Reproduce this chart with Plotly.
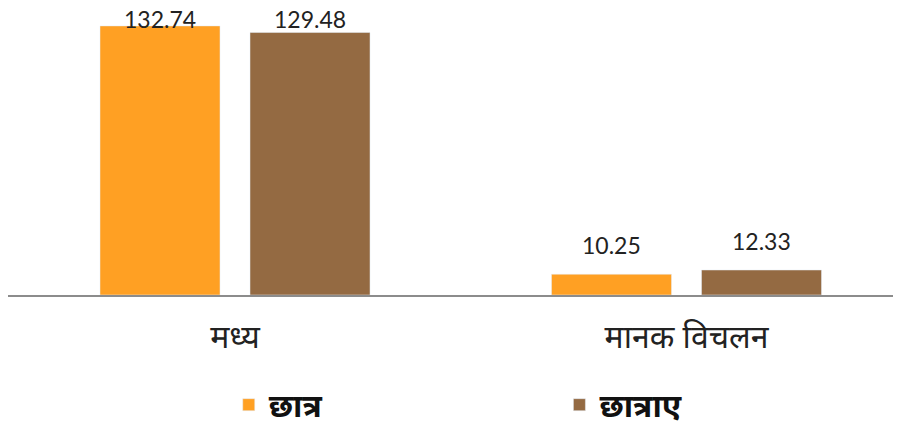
import plotly.graph_objects as go

categories = ["मध्य", "मानक विचलन"]
series_names = ["छात्र", "छात्राए"]
boys = [132.74, 10.25]
girls = [129.48, 12.33]
colors = ["#FFA023", "#946A42"]
legends = ["legend", "legend2"]

Y_MAX = 140.1
LABEL_GAP = 14.3      # data units above bar for the value label
LABEL_CAP = 136.4     # labels are clamped below the plot top

fig = go.Figure()
for name, vals, col, lg in zip(series_names, [boys, girls], colors, legends):
    fig.add_trace(go.Bar(
        x=categories, y=vals, name=name, marker_color=col, legend=lg,
    ))

for i, vals in enumerate([boys, girls]):
    for cat, v in zip(categories, vals):
        fig.add_annotation(
            x=cat, y=min(v + LABEL_GAP, LABEL_CAP), xref="x", yref="y",
            text=f"{v:.2f}", showarrow=False, yanchor="middle",
            xshift=(-75 if i == 0 else 75),
            font=dict(family="Lato, Carlito, sans-serif", size=23, color="#222222"),
        )

legfont = dict(family="Noto Sans, sans-serif", size=32, color="#111111", weight="bold")
fig.update_layout(
    width=901, height=425,
    margin=dict(l=0, r=0, t=3, b=138, autoexpand=False),
    paper_bgcolor="white", plot_bgcolor="white",
    barmode="group", bargap=0.3355, bargroupgap=0.2,
    showlegend=True,
    legend=dict(x=0.245, xanchor="left", y=-0.29, yanchor="top", tracegroupgap=0,
                font=legfont, itemclick=False, bgcolor="rgba(0,0,0,0)"),
    legend2=dict(x=0.612, xanchor="left", y=-0.29, yanchor="top", tracegroupgap=0,
                 font=legfont, itemclick=False, bgcolor="rgba(0,0,0,0)"),
    xaxis=dict(range=[-0.5028, 1.4928], showline=True, linecolor="#8c8c8c", linewidth=2,
               ticks="", ticklabelstandoff=13, automargin=False,
               tickfont=dict(family="Noto Sans, sans-serif", size=32, color="#222222")),
    yaxis=dict(range=[0, Y_MAX], visible=False, showgrid=False, automargin=False),
)
fig.write_html("out.html")
